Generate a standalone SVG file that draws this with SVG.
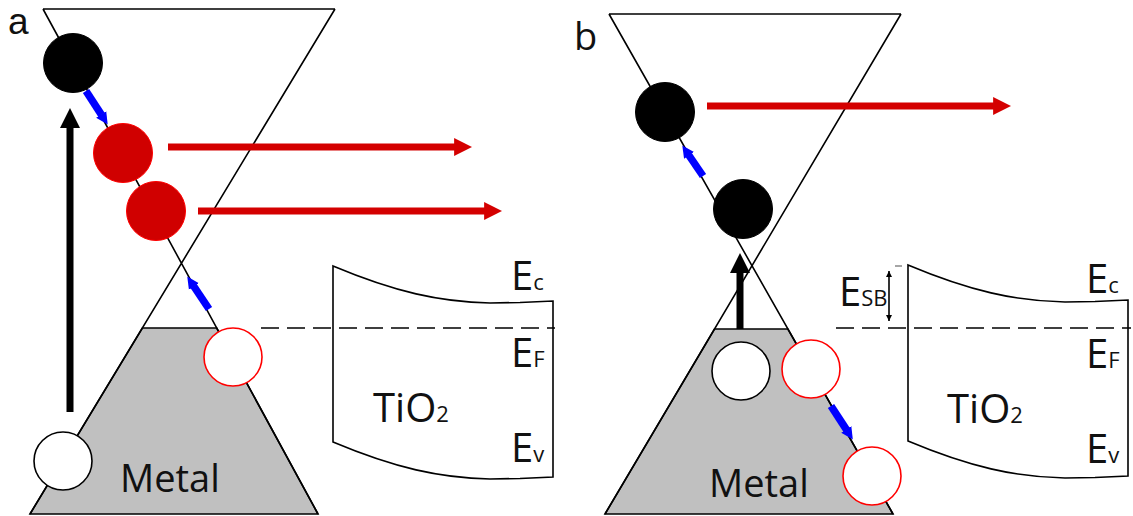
<svg xmlns="http://www.w3.org/2000/svg" width="1133" height="516" viewBox="0 0 1133 516">
<style>
.ln{fill:none;stroke:#000;stroke-width:1.6}
.metal{fill:#c0c0c0;stroke:#000;stroke-width:1.6}
.dash{fill:none;stroke:#000;stroke-width:1.6;stroke-dasharray:18 8}
.box{fill:#fff;stroke:#000;stroke-width:1.6}
.blk{fill:#000;stroke:#000;stroke-width:1}
.redf{fill:#d00000;stroke:#f00;stroke-width:1}
.redo{fill:#fff;stroke:#f00;stroke-width:1.6}
.wht{fill:#fff;stroke:#000;stroke-width:1.6}
.blue{stroke:#0000ff;stroke-width:7.5;fill:none}
.red{stroke:#d40000;stroke-width:7;fill:none}
.up{stroke:#000;stroke-width:7;fill:none}
text{font-family:"Open Sans","Liberation Sans",sans-serif;fill:#111}
.lbl{font-size:38px}
.el{font-size:40px}
.sub{font-size:22px}
</style>
<defs>
<marker id="hb" viewBox="0 0 10 10" refX="0.5" refY="5" markerWidth="12" markerHeight="18" markerUnits="userSpaceOnUse" orient="auto"><path d="M0,0L10,5L0,10z" fill="#0000ff"/></marker>
<marker id="hr" viewBox="0 0 10 10" refX="0.5" refY="5" markerWidth="18" markerHeight="22" markerUnits="userSpaceOnUse" orient="auto"><path d="M0,0L10,5L0,10z" fill="#d40000"/></marker>
<marker id="hk" viewBox="0 0 10 10" refX="0.5" refY="5" markerWidth="20" markerHeight="23" markerUnits="userSpaceOnUse" orient="auto"><path d="M0,0L10,5L0,10z" fill="#000"/></marker>
<marker id="hs" viewBox="0 0 10 10" refX="10" refY="5" markerWidth="9" markerHeight="6" markerUnits="userSpaceOnUse" orient="auto-start-reverse"><path d="M0,0L10,5L0,10z" fill="#000"/></marker>
</defs>

<g id="panel-a">
  <g id="a-metal"><polygon class="metal" points="142.4,328 216.7,328 318,514 30,514"/></g>
  <g id="a-bands">
    <path class="ln" d="M43,9H335M43,9L318,514M335,9L30,514"/>
  </g>
  <g id="a-tio2">
    <path class="box" d="M333,266C395,292 440,302 490,303L520,302.5L553,301V477L520,478.5L490,479C440,478 395,468 333,442Z"/>
  </g>
  <g id="a-fermi"><path class="dash" d="M261,328H555"/></g>
</g>

<g id="panel-b">
  <g id="b-metal"><polygon class="metal" points="714.5,329 787.9,329 893,514 605,514"/></g>
  <g id="b-bands">
    <path class="ln" d="M609,14H901M609,14L893,514M901,14L605,514"/>
  </g>
  <g id="b-tio2">
    <path class="box" d="M908,265C970,291 1015,301 1065,302L1095,301.5L1128,300V476L1095,477.5L1065,478C1015,477 970,467 908,441Z"/>
  </g>
  <g id="b-fermi"><path class="dash" d="M836,328H1131"/></g>
  <g id="b-esb-dim">
    <path class="ln" d="M889,271V321" stroke-width="1.2" marker-start="url(#hs)" marker-end="url(#hs)"/>
    <path d="M895,266H902" stroke="#888" stroke-width="1.5"/>
  </g>
</g>

<g id="connectors">
  <path class="blue" d="M86,91L101.5,114.9" marker-end="url(#hb)"/>
  <path class="blue" d="M209,309L193.6,286" marker-end="url(#hb)"/>
  <path class="blue" d="M703,176L688.7,155" marker-end="url(#hb)"/>
  <path class="blue" d="M831,406L846.6,429.9" marker-end="url(#hb)"/>
  <path class="red" d="M168,147H455" marker-end="url(#hr)"/>
  <path class="red" d="M198,211H485" marker-end="url(#hr)"/>
  <path class="red" d="M707,106H994" marker-end="url(#hr)"/>
  <path class="up" d="M70,412V127" marker-end="url(#hk)"/>
  <path class="up" d="M740,329V272" marker-end="url(#hk)"/>
</g>

<g id="a-electron-top"><circle class="blk" cx="73" cy="63" r="29.5"/></g>
<g id="a-electron-1"><circle class="redf" cx="123" cy="153" r="29.5"/></g>
<g id="a-electron-2"><circle class="redf" cx="156" cy="211" r="29.5"/></g>
<g id="a-hole-red"><circle class="redo" cx="233" cy="357" r="29"/></g>
<g id="a-hole"><circle class="wht" cx="63" cy="461" r="29"/></g>

<g id="b-electron-top"><circle class="blk" cx="665" cy="112" r="29.5"/></g>
<g id="b-electron-2"><circle class="blk" cx="743" cy="209" r="29.5"/></g>
<g id="b-hole"><circle class="wht" cx="741" cy="371" r="29"/></g>
<g id="b-hole-red-1"><circle class="redo" cx="811" cy="369" r="29"/></g>
<g id="b-hole-red-2"><circle class="redo" cx="872" cy="476" r="29"/></g>

<g id="labels">
  <text x="8" y="34" style="font-family:'Liberation Sans',sans-serif;font-size:37px">a</text>
  <text x="574" y="50" class="lbl">b</text>
  <text x="120" y="492" class="lbl">Metal</text>
  <text x="709" y="497" class="lbl">Metal</text>
  <text x="511" y="290" class="el">E<tspan class="sub">c</tspan></text>
  <text x="511" y="367" class="el">E<tspan class="sub">F</tspan></text>
  <text x="511" y="462" class="el">E<tspan class="sub">v</tspan></text>
  <text x="373" y="422" class="el">TiO<tspan class="sub">2</tspan></text>
  <text x="1086" y="293" class="el">E<tspan class="sub">c</tspan></text>
  <text x="1086" y="368" class="el">E<tspan class="sub">F</tspan></text>
  <text x="1086" y="463" class="el">E<tspan class="sub">v</tspan></text>
  <text x="947" y="423" class="el">TiO<tspan class="sub">2</tspan></text>
  <text x="839" y="306" class="el">E<tspan class="sub">SB</tspan></text>
</g>
</svg>
